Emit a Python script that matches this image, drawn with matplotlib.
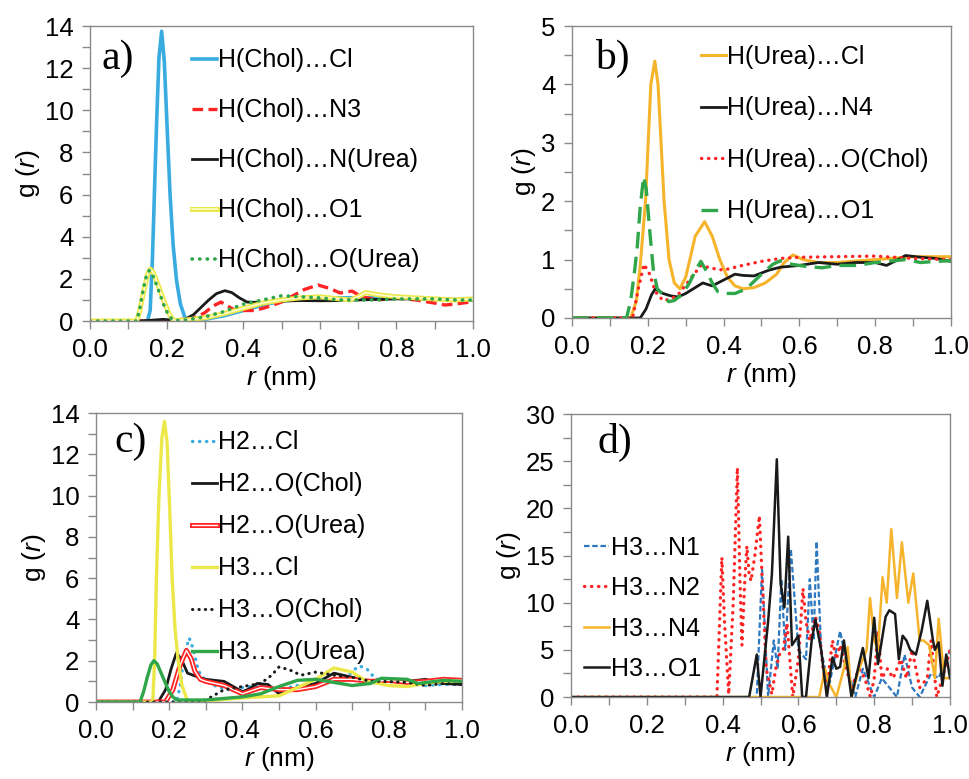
import matplotlib
matplotlib.use("Agg")
import matplotlib.pyplot as plt
import matplotlib.patheffects as pe
from matplotlib.ticker import MultipleLocator

plt.rcParams['font.family'] = ['Liberation Sans', 'DejaVu Sans']
plt.rcParams['mathtext.fontset'] = 'custom'
plt.rcParams['mathtext.it'] = 'Liberation Sans:italic'
plt.rcParams['mathtext.rm'] = 'Liberation Sans'

# a) H(Chol) pairs
r_a_cl = [0, 0.150, 0.157, 0.163, 0.168, 0.174, 0.180, 0.187, 0.194, 0.201, 0.209, 0.217, 0.226, 0.236, 0.248,
          0.26, 0.30, 0.35, 0.40, 0.45, 0.50, 0.55, 0.60, 0.70, 0.80, 0.90, 1.00]
g_a_cl = [0, 0, 0.5, 3.0, 6.0, 9.5, 12.5, 13.75, 12.3, 9.3, 6.0, 3.6, 1.9, 0.8, 0.15,
          0.08, 0.08, 0.25, 0.5, 0.75, 0.95, 1.02, 1.1, 1.1, 1.1, 1.05, 1.0]
r_a_n3 = [0, 0.22, 0.25, 0.28, 0.30, 0.32, 0.342, 0.36, 0.375, 0.40, 0.43, 0.46, 0.50, 0.53, 0.56, 0.595,
          0.625, 0.653, 0.684, 0.71, 0.75, 0.80, 0.85, 0.90, 0.927, 0.96, 1.0]
g_a_n3 = [0, 0, 0.05, 0.2, 0.4, 0.7, 0.9, 0.7, 0.55, 0.5, 0.5, 0.65, 0.9, 1.2, 1.5, 1.71,
          1.55, 1.33, 1.42, 1.15, 1.0, 1.1, 1.0, 0.85, 0.76, 0.82, 0.92]
r_a_nu = [0, 0.13, 0.17, 0.19, 0.21, 0.25, 0.27, 0.29, 0.31, 0.33, 0.352, 0.37, 0.39, 0.41, 0.45, 0.5,
          0.55, 0.6, 0.65, 0.7, 0.8, 0.9, 1.0]
g_a_nu = [0, 0, 0.05, 0.08, 0.05, 0.1, 0.3, 0.65, 1.0, 1.3, 1.44, 1.35, 1.1, 0.9, 0.88, 0.95,
          0.97, 0.96, 0.97, 1.0, 1.05, 1.05, 1.0]
r_a_o1 = [0, 0.122, 0.13, 0.14, 0.15, 0.157, 0.165, 0.175, 0.185, 0.195, 0.205, 0.215, 0.222, 0.25, 0.30,
          0.35, 0.40, 0.45, 0.50, 0.55, 0.60, 0.65, 0.68, 0.70, 0.72, 0.75, 0.80, 0.85, 0.90, 0.95, 1.0]
g_a_o1 = [0, 0, 0.5, 1.4, 2.2, 2.47, 2.3, 1.85, 1.35, 0.85, 0.4, 0.1, 0.02, 0.05, 0.15,
          0.35, 0.6, 0.85, 1.0, 1.1, 1.15, 1.05, 1.0, 1.15, 1.35, 1.25, 1.15, 1.1, 1.05, 1.0, 1.05]
r_a_ou = [0, 0.122, 0.13, 0.14, 0.148, 0.155, 0.163, 0.173, 0.183, 0.193, 0.203, 0.213, 0.222, 0.25, 0.30,
          0.35, 0.40, 0.45, 0.50, 0.55, 0.60, 0.65, 0.70, 0.75, 0.80, 0.85, 0.90, 0.95, 1.0]
g_a_ou = [0, 0, 0.6, 1.6, 2.2, 2.4, 2.2, 1.75, 1.25, 0.75, 0.35, 0.1, 0.02, 0.05, 0.2,
          0.45, 0.8, 1.0, 1.2, 1.15, 1.1, 1.0, 1.0, 1.0, 1.05, 1.05, 1.05, 1.0, 1.0]

# b) H(Urea) pairs
r_b_cl = [0, 0.155, 0.17, 0.18, 0.194, 0.208, 0.2185, 0.227, 0.235, 0.243, 0.256, 0.27, 0.285, 0.30, 0.311,
          0.325, 0.35, 0.37, 0.39, 0.41, 0.43, 0.452, 0.48, 0.51, 0.54, 0.56, 0.583, 0.61, 0.65, 0.7, 0.8, 0.9, 1.0]
g_b_cl = [0, 0, 0.3, 0.9, 2.0, 4.0, 4.4, 4.0, 3.0, 2.0, 1.0, 0.6, 0.5, 0.7, 1.0,
          1.4, 1.65, 1.4, 1.0, 0.7, 0.55, 0.5, 0.52, 0.6, 0.75, 0.95, 1.08, 1.0, 0.95, 0.95, 1.0, 1.05, 1.05]
r_b_n4 = [0, 0.18, 0.195, 0.21, 0.22, 0.24, 0.26, 0.28, 0.30, 0.32, 0.345, 0.37, 0.40, 0.43, 0.45, 0.48,
          0.52, 0.55, 0.60, 0.65, 0.70, 0.75, 0.80, 0.83, 0.86, 0.88, 0.92, 0.96, 1.0]
g_b_n4 = [0, 0, 0.15, 0.4, 0.5, 0.42, 0.38, 0.36, 0.42, 0.5, 0.6, 0.55, 0.65, 0.75, 0.73, 0.72,
          0.82, 0.87, 0.9, 0.95, 0.92, 0.95, 0.95, 0.9, 1.0, 1.07, 1.04, 1.02, 0.97]
r_b_oc = [0, 0.16, 0.175, 0.19, 0.205, 0.22, 0.24, 0.26, 0.28, 0.31, 0.34, 0.37, 0.40, 0.45, 0.50,
          0.55, 0.60, 0.70, 0.80, 0.90, 1.0]
g_b_oc = [0, 0, 0.5, 0.92, 0.75, 0.45, 0.3, 0.32, 0.4, 0.65, 0.9, 0.85, 0.82, 0.9, 0.97,
          1.02, 1.04, 1.05, 1.06, 1.02, 1.0]
r_b_o1 = [0, 0.144, 0.155, 0.165, 0.172, 0.18, 0.189, 0.196, 0.205, 0.215, 0.225, 0.24, 0.255, 0.27, 0.29,
          0.31, 0.325, 0.34, 0.355, 0.37, 0.385, 0.40, 0.43, 0.46, 0.50, 0.53, 0.55, 0.58, 0.62, 0.66,
          0.70, 0.75, 0.80, 0.85, 0.88, 0.92, 0.96, 1.0]
g_b_o1 = [0, 0, 0.3, 0.8, 1.2, 1.9, 2.42, 2.2, 1.5, 0.8, 0.5, 0.4, 0.28, 0.3, 0.4,
          0.6, 0.8, 0.97, 0.8, 0.6, 0.45, 0.42, 0.42, 0.5, 0.75, 0.92, 0.98, 0.92, 0.88, 0.86,
          0.9, 0.9, 0.95, 0.98, 1.0, 0.95, 0.97, 0.98]

# c) H2 / H3 pairs
r_c_h2cl = [0, 0.22, 0.23, 0.24, 0.2546, 0.265, 0.28, 0.30, 0.33, 0.36, 0.40, 0.45, 0.50, 0.55, 0.60,
            0.65, 0.68, 0.70, 0.72, 0.74, 0.76, 0.78, 0.85, 0.90, 0.95, 1.0]
g_c_h2cl = [0, 0, 0.8, 2.2, 3.1, 2.6, 1.5, 1.0, 0.75, 0.6, 0.7, 0.8, 0.6, 0.8, 0.9,
            1.0, 1.1, 1.5, 1.75, 1.6, 1.2, 1.0, 0.95, 0.8, 0.85, 0.85]
r_c_h2oc = [0, 0.17, 0.19, 0.205, 0.22, 0.235, 0.25, 0.28, 0.30, 0.35, 0.38, 0.40, 0.42, 0.44, 0.47,
            0.50, 0.55, 0.60, 0.65, 0.70, 0.75, 0.80, 0.85, 0.90, 0.95, 1.0]
g_c_h2oc = [0, 0, 0.6, 1.6, 2.4, 2.0, 1.4, 1.2, 1.1, 1.0, 0.7, 0.5, 0.65, 0.9, 0.85,
            0.4, 0.7, 0.9, 1.4, 1.2, 1.0, 1.05, 1.0, 1.1, 0.9, 0.85]
r_c_h2ou = [0, 0.19, 0.21, 0.23, 0.247, 0.26, 0.27, 0.285, 0.30, 0.35, 0.40, 0.45, 0.50, 0.55, 0.60,
            0.65, 0.70, 0.75, 0.80, 0.85, 0.90, 0.95, 1.0]
g_c_h2ou = [0, 0, 0.6, 1.8, 2.5, 2.1, 1.5, 1.1, 1.0, 0.8, 0.4, 0.7, 0.6, 0.6, 0.75,
            1.1, 1.1, 1.0, 1.05, 0.95, 1.0, 1.1, 1.05]
r_c_h3cl = [0, 0.155, 0.16, 0.165, 0.172, 0.18, 0.187, 0.194, 0.201, 0.208, 0.216, 0.2245, 0.235, 0.25,
            0.30, 0.40, 0.50, 0.55, 0.60, 0.65, 0.70, 0.74, 0.80, 0.85, 0.90, 0.95, 1.0]
g_c_h3cl = [0, 0, 2.0, 6.0, 10.0, 12.8, 13.6, 12.6, 9.5, 6.0, 3.5, 2.0, 0.8, 0.05,
            0.05, 0.2, 0.3, 0.7, 1.1, 1.65, 1.45, 1.0, 0.8, 0.75, 0.9, 1.0, 1.0]
r_c_h3oc = [0, 0.28, 0.30, 0.33, 0.35, 0.40, 0.45, 0.48, 0.50, 0.53, 0.56, 0.60, 0.65, 0.70, 0.75,
            0.80, 0.85, 0.90, 0.95, 1.0]
g_c_h3oc = [0, 0, 0.1, 0.4, 0.6, 0.75, 0.9, 1.3, 1.7, 1.55, 1.3, 1.45, 1.3, 1.2, 1.0,
            1.0, 0.95, 0.8, 0.9, 0.85]
r_c_h3ou = [0, 0.12, 0.13, 0.14, 0.15, 0.158, 0.167, 0.178, 0.19, 0.2, 0.21, 0.22, 0.3, 0.4, 0.45,
            0.5, 0.55, 0.6, 0.65, 0.7, 0.75, 0.78, 0.85, 0.88, 0.95, 1.0]
g_c_h3ou = [0, 0, 0.5, 1.2, 1.8, 2.0, 1.85, 1.4, 0.9, 0.5, 0.25, 0.1, 0.1, 0.25, 0.4,
            0.75, 1.05, 1.1, 0.95, 0.8, 0.9, 1.15, 1.1, 0.9, 1.05, 1.0]

# d) H3 pairs
r_d_n1 = [0, 0.49, 0.504, 0.52, 0.535, 0.545, 0.555, 0.565, 0.58, 0.60, 0.62, 0.63, 0.64, 0.648, 0.66,
          0.68, 0.70, 0.71, 0.73, 0.75, 0.77, 0.80, 0.82, 0.84, 0.86, 0.88, 0.90, 0.92, 0.95, 0.97, 1.0]
g_d_n1 = [0, 0, 13.5, 0, 6, 3, 12.5, 5, 15.7, 5, 4, 12.5, 6, 16.5, 5,
          1, 5, 7, 3, 0, 3, 0, 2, 1, 0, 4.5, 1, 0, 2.5, 2, 5]
r_d_n2 = [0, 0.385, 0.398, 0.405, 0.416, 0.428, 0.439, 0.446, 0.451, 0.458, 0.464, 0.47, 0.475, 0.485,
          0.497, 0.505, 0.515, 0.53, 0.54, 0.55, 0.56, 0.57, 0.585, 0.6, 0.612, 0.62, 0.63, 0.645, 0.655,
          0.665, 0.675, 0.69, 0.7, 0.71, 0.72, 0.74, 0.76, 0.775, 0.79, 0.8, 0.81, 0.82, 0.835, 0.85, 0.87,
          0.885, 0.9, 0.92, 0.94, 0.95, 0.965, 0.98, 1.0]
g_d_n2 = [0, 0, 14.8, 8, 0.3, 10, 24.3, 12, 5.5, 12, 16, 13, 12.3, 15,
          19.2, 12, 3, 0.3, 3, 4.5, 5, 7.8, 0, 4, 11.5, 8, 6, 8.5, 7,
          3, 1, 6, 4, 5.5, 4, 1, 3, 2, 0, 2, 7, 2, 3, 2, 4,
          2, 5, 1, 2, 6, 0, 2, 5]
r_d_n4 = [0, 0.655, 0.67, 0.68, 0.70, 0.72, 0.73, 0.74, 0.76, 0.78, 0.789, 0.80, 0.81, 0.822, 0.833,
          0.845, 0.86, 0.873, 0.89, 0.903, 0.92, 0.93, 0.945, 0.96, 0.97, 0.985, 1.0]
g_d_n4 = [0, 0, 3, 1.5, 0, 3, 5.3, 0, 3, 5, 10.5, 6, 5, 12.7, 10,
          17.8, 10.5, 16.4, 10, 13.1, 6, 6, 5.5, 2, 8.3, 2, 2]
r_d_o1 = [0, 0.47, 0.49, 0.50, 0.52, 0.53, 0.543, 0.553, 0.563, 0.573, 0.583, 0.60, 0.61, 0.62, 0.635,
          0.645, 0.66, 0.675, 0.69, 0.70, 0.71, 0.72, 0.73, 0.74, 0.76, 0.77, 0.785, 0.80, 0.81, 0.83,
          0.84, 0.855, 0.865, 0.875, 0.885, 0.895, 0.91, 0.925, 0.94, 0.955, 0.96, 0.97, 0.98, 0.99, 1.0]
g_d_o1 = [0, 0, 4.5, 0, 8, 13, 25.2, 12, 9.5, 17, 5.5, 6.5, 0, 0, 6,
          8.2, 5, 0, 4.2, 3, 3.2, 6, 3, 0, 3.5, 5.2, 2, 8.4, 3.5, 8.5,
          9.2, 8.8, 4, 6.5, 6, 5, 4.5, 7, 10.2, 6, 5, 5.8, 1.2, 4.5, 2]

labels_a = ['H(Chol)…Cl', 'H(Chol)…N3', 'H(Chol)…N(Urea)', 'H(Chol)…O1', 'H(Chol)…O(Urea)']
labels_b = ['H(Urea)…Cl', 'H(Urea)…N4', 'H(Urea)…O(Chol)', 'H(Urea)…O1']
labels_c = ['H2…Cl', 'H2…O(Chol)', 'H2…O(Urea)', 'H3…Cl', 'H3…O(Chol)', 'H3…O(Urea)']
labels_d = ['H3…N1', 'H3…N2', 'H3…N4', 'H3…O1']

BLUE = '#38abe0'
RED = '#ff2424'
GREEN = '#2fa64a'
YELLOW = '#ece84a'
ORANGE = '#f6b42c'
DBLUE = '#2e78c0'
BLACK = '#1a1a1a'
GRAY = '#8a8a8a'

dotted = (0, (0.1, 2.0))


def double_line(color):
    # outlined line with a light core
    return [pe.Stroke(linewidth=3.6, foreground=color), pe.Normal()]


def style_axes(ax, ymax, ymajor, yminor, tag, tag_xy):
    ax.set_xlim(0, 1.0)
    ax.set_ylim(0, ymax)
    ax.xaxis.set_major_locator(MultipleLocator(0.2))
    ax.xaxis.set_minor_locator(MultipleLocator(0.1))
    ax.yaxis.set_major_locator(MultipleLocator(ymajor))
    ax.yaxis.set_minor_locator(MultipleLocator(yminor))
    ax.xaxis.set_major_formatter(plt.FormatStrFormatter('%.1f'))
    for s in ax.spines.values():
        s.set_color(GRAY)
        s.set_linewidth(1.0)
    ax.tick_params(which='both', direction='out', length=6, width=1, color=GRAY,
                   labelsize=18.5, pad=6)
    ax.set_xlabel(r'$\mathit{r}$ (nm)', fontsize=19, labelpad=2)
    ax.set_ylabel(r'g ($\mathit{r}$)', fontsize=19, labelpad=2)
    ax.text(tag_xy[0], tag_xy[1], tag, transform=ax.transAxes, fontsize=30,
            family='Liberation Serif', va='center', ha='left')


def add_legend(ax, anchor, spacing):
    ax.legend(loc='upper left', bbox_to_anchor=anchor, frameon=False, fontsize=18,
              borderpad=0, borderaxespad=0, handlelength=1.0, handletextpad=0.05,
              labelspacing=spacing)


fig = plt.figure(figsize=(9.69, 7.79), dpi=100)

# panel a
ax = fig.add_axes([0.0929, 0.5879, 0.3953, 0.3787])
ax.plot(r_a_cl, g_a_cl, color=BLUE, lw=2.6, label=labels_a[0])
ax.plot(r_a_n3, g_a_n3, color=RED, lw=2.4, ls=(0, (3.2, 1.6)), label=labels_a[1])
ax.plot(r_a_nu, g_a_nu, color=BLACK, lw=2.0, label=labels_a[2])
ax.plot(r_a_o1, g_a_o1, color='#fffbd0', lw=1.2, path_effects=double_line(YELLOW), label=labels_a[3])
ax.plot(r_a_ou, g_a_ou, color=GREEN, lw=2.6, ls=dotted, dash_capstyle='round', label=labels_a[4])
style_axes(ax, 14, 2, 1, 'a)', (0.03, 0.89))
add_legend(ax, (0.265, 0.924), 1.04)

# panel b
ax = fig.add_axes([0.5903, 0.5918, 0.3911, 0.3748])
ax.plot(r_b_cl, g_b_cl, color=ORANGE, lw=2.2, label=labels_b[0])
ax.plot(r_b_n4, g_b_n4, color=BLACK, lw=2.0, label=labels_b[1])
ax.plot(r_b_oc, g_b_oc, color=RED, lw=2.4, ls=dotted, dash_capstyle='round', label=labels_b[2])
ax.plot(r_b_o1, g_b_o1, color=GREEN, lw=2.4, ls=(0, (5, 2.5)), label=labels_b[3])
style_axes(ax, 5, 1, 0.5, 'b)', (0.06, 0.89))
add_legend(ax, (0.34, 0.935), 1.1)

# panel c
ax = fig.add_axes([0.0991, 0.0988, 0.3777, 0.3710])
ax.plot(r_c_h2cl, g_c_h2cl, color=BLUE, lw=2.4, ls=dotted, dash_capstyle='round', label=labels_c[0])
ax.plot(r_c_h2oc, g_c_h2oc, color=BLACK, lw=2.0, label=labels_c[1])
ax.plot(r_c_h2ou, g_c_h2ou, color='white', lw=1.0, path_effects=double_line(RED), label=labels_c[2])
ax.plot(r_c_h3cl, g_c_h3cl, color=YELLOW, lw=2.4, label=labels_c[3])
ax.plot(r_c_h3oc, g_c_h3oc, color=BLACK, lw=2.2, ls=dotted, dash_capstyle='round', label=labels_c[4])
ax.plot(r_c_h3ou, g_c_h3ou, color=GREEN, lw=2.4, label=labels_c[5])
style_axes(ax, 14, 2, 1, 'c)', (0.05, 0.9))
add_legend(ax, (0.262, 0.94), 0.72)

# panel d
ax = fig.add_axes([0.5893, 0.1052, 0.3911, 0.3633])
ax.plot(r_d_n1, g_d_n1, color=DBLUE, lw=1.6, ls=(0, (2.5, 1.2)), label=labels_d[0])
ax.plot(r_d_n2, g_d_n2, color=RED, lw=2.4, ls=dotted, dash_capstyle='round', label=labels_d[1])
ax.plot(r_d_n4, g_d_n4, color=ORANGE, lw=1.8, label=labels_d[2])
ax.plot(r_d_o1, g_d_o1, color=BLACK, lw=1.8, label=labels_d[3])
style_axes(ax, 30, 5, 2.5, 'd)', (0.07, 0.9))
add_legend(ax, (0.035, 0.57), 0.66)

fig.savefig('out.png', dpi=100)
